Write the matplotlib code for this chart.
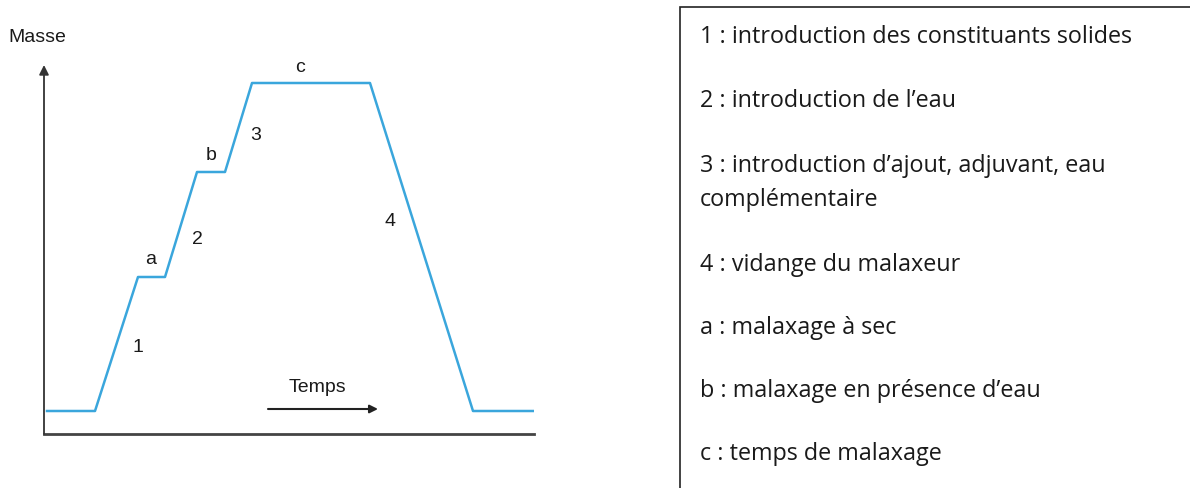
import matplotlib.pyplot as plt
from matplotlib.patches import Rectangle

# mass curve vs time (arbitrary units)
temps = [0, 48, 91, 118, 150, 178, 205, 323, 426, 486]
masse = [0, 0, 134, 134, 239, 239, 328, 328, 0, 0]

# phase labels: text, time, mass
etapes = ['1', 'a', '2', 'b', '3', 'c', '4']
etape_t = [91, 104, 150, 164, 209, 253, 343]
etape_m = [64, 151, 171, 256, 276, 344, 189]

legende = [
    "1 : introduction des constituants solides",
    "2 : introduction de l\u2019eau",
    "3 : introduction d\u2019ajout, adjuvant, eau\ncompl\u00e9mentaire",
    "4 : vidange du malaxeur",
    "a : malaxage \u00e0 sec",
    "b : malaxage en pr\u00e9sence d\u2019eau",
    "c : temps de malaxage",
]

W, H = 1190, 488
fig = plt.figure(figsize=(W / 100, H / 100), dpi=100)

ax = fig.add_axes([44 / W, (H - 434) / H, (534 - 44) / W, (434 - 65) / H])
ax.set_xlim(-3, 487)
ax.set_ylim(-23, 346)
for s in ax.spines.values():
    s.set_visible(False)
ax.set_xticks([])
ax.set_yticks([])

ax.plot(temps, masse, color='#3aa6dc', lw=1.8)

# axes drawn by hand: y with arrow, x plain
ax.annotate('', xy=(0, 1), xytext=(0, 0), xycoords='axes fraction',
            arrowprops=dict(arrowstyle='-|>', color='#333333', lw=1.3,
                            mutation_scale=14, shrinkA=0, shrinkB=0))
ax.plot([0, 1], [0, 0], transform=ax.transAxes, color='#444444', lw=2,
        clip_on=False)

for lab, t, m in zip(etapes, etape_t, etape_m):
    ax.text(t, m, lab, fontsize=14, family='Liberation Sans', color='#1a1a1a',
            ha='center', va='center')

ax.text(270, 23, 'Temps', fontsize=14, family='Liberation Sans',
        color='#1a1a1a', ha='center', va='center')
ax.annotate('', xy=(331, 2), xytext=(221, 2), xycoords='data',
            arrowprops=dict(arrowstyle='-|>', color='#222222', lw=1.5,
                            mutation_scale=12, shrinkA=0, shrinkB=0))

fig.text(8 / W, 1 - 37 / H, 'Masse', fontsize=14, family='Liberation Sans',
         color='#1a1a1a', ha='left', va='center')

# legend box on the right
fig.patches.append(Rectangle((680 / W, -0.01), (W + 5 - 680) / W, 1.01 - 7 / H,
                             transform=fig.transFigure, fill=False,
                             edgecolor='#222222', lw=1.2))
ys = [37, 101, 183, 265, 328, 391, 454]
for txt, y in zip(legende, ys):
    fig.text(700 / W, 1 - y / H, txt, fontsize=16.8, family='Open Sans',
             color='#1a1a1a', ha='left', va='center', linespacing=1.6)

fig.savefig('out.png', dpi=100)
